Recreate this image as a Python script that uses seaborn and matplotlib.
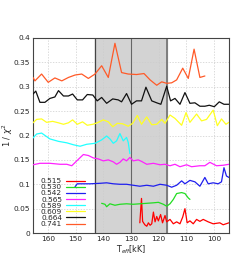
import numpy as np
import pandas as pd
import matplotlib
matplotlib.use("Agg")
import matplotlib.pyplot as plt
import seaborn as sns

sns.set_style("white")
plt.rcParams['font.family'] = ['DejaVu Sans']

labels = ["0.515", "0.530", "0.542", "0.565", "0.589", "0.609", "0.664", "0.741"]
colors = ["#ff0000", "#22dd22", "#1f1fee", "#ff22ff", "#22ffff", "#ffff22", "#111111", "#ff5a28"]

t_515 = [126.8, 126.2, 125.8, 125.0, 124.3, 123.7, 123.1, 122.5, 121.9, 121.3, 120.7, 120.1, 119.3, 118.6, 117.7,
         117.1, 115.9, 114.7, 113.5, 112.3, 111.3, 110.5, 109.7, 108.7, 107.5, 106.3, 105.1, 103.9, 102.1, 100.3,
         97.9, 96.7, 94.6]
v_515 = [0.021, 0.071, 0.024, 0.017, 0.014, 0.021, 0.016, 0.019, 0.043, 0.023, 0.034, 0.025, 0.038, 0.021, 0.036,
         0.023, 0.028, 0.019, 0.023, 0.019, 0.033, 0.050, 0.021, 0.025, 0.019, 0.028, 0.024, 0.028, 0.023, 0.019,
         0.021, 0.017, 0.021]

t_530 = [140.6, 139.4, 138.8, 137.6, 135.8, 134.0, 131.6, 129.2, 126.8, 124.3, 121.9, 120.1, 118.3, 117.1, 115.9,
         114.7, 113.5, 111.7, 110.5, 109.3, 108.7]
v_530 = [0.061, 0.059, 0.054, 0.060, 0.057, 0.059, 0.060, 0.059, 0.060, 0.061, 0.062, 0.063, 0.059, 0.055, 0.060,
         0.069, 0.081, 0.083, 0.081, 0.072, 0.069]

t_542 = [150.2, 149.4, 147.8, 144.8, 141.2, 138.8, 136.4, 134.0, 131.6, 129.2, 126.8, 124.3, 121.9, 119.5, 117.1,
         115.3, 113.5, 111.7, 110.5, 108.7, 106.9, 105.1, 103.3, 102.1, 100.3, 98.5, 97.3, 96.4, 95.5, 94.6]
v_542 = [0.095, 0.101, 0.101, 0.101, 0.102, 0.103, 0.101, 0.100, 0.100, 0.098, 0.096, 0.098, 0.096, 0.100, 0.098,
         0.094, 0.098, 0.107, 0.101, 0.108, 0.105, 0.096, 0.114, 0.101, 0.103, 0.101, 0.105, 0.134, 0.117, 0.114]

t_565 = [165.4, 162.9, 159.3, 155.6, 153.2, 151.4, 149.6, 147.2, 145.4, 143.6, 141.8, 140.0, 138.2, 136.4, 135.2,
         134.0, 132.8, 131.6, 130.4, 129.2, 127.4, 126.2, 124.3, 121.9, 119.5, 117.7, 115.9, 114.1, 112.3, 109.9,
         108.1, 105.1, 103.3, 101.5, 99.1, 96.7, 94.6]
v_565 = [0.140, 0.143, 0.143, 0.141, 0.141, 0.138, 0.148, 0.161, 0.159, 0.154, 0.152, 0.148, 0.150, 0.146, 0.141,
         0.145, 0.152, 0.148, 0.155, 0.148, 0.150, 0.147, 0.141, 0.143, 0.140, 0.141, 0.138, 0.141, 0.136, 0.140,
         0.136, 0.138, 0.138, 0.145, 0.138, 0.139, 0.141]

t_589 = [165.4, 164.1, 162.3, 159.3, 156.2, 153.2, 150.8, 148.4, 146.0, 143.0, 140.6, 138.8, 137.6, 136.4, 135.2,
         134.0, 132.8, 131.6, 131.0, 130.4]
v_589 = [0.195, 0.203, 0.205, 0.193, 0.188, 0.185, 0.181, 0.178, 0.182, 0.184, 0.191, 0.199, 0.193, 0.184, 0.189,
         0.204, 0.189, 0.196, 0.186, 0.163]

t_609 = [165.4, 164.1, 162.3, 160.5, 158.3, 156.2, 154.4, 152.6, 151.1, 149.4, 147.5, 145.8, 143.8, 142.2, 140.0,
         138.2, 136.6, 134.9, 133.0, 131.0, 129.4, 127.7, 126.2, 124.3, 122.5, 120.7, 118.9, 117.7, 115.9, 114.1,
         111.7, 110.1, 108.7, 106.3, 104.5, 102.7, 100.3, 98.8, 97.3, 95.7, 94.6]
v_609 = [0.226, 0.233, 0.234, 0.227, 0.229, 0.226, 0.223, 0.226, 0.232, 0.223, 0.228, 0.221, 0.223, 0.226, 0.232,
         0.228, 0.218, 0.225, 0.224, 0.219, 0.225, 0.241, 0.223, 0.238, 0.222, 0.223, 0.233, 0.225, 0.242, 0.235,
         0.221, 0.247, 0.227, 0.244, 0.230, 0.233, 0.252, 0.220, 0.234, 0.223, 0.227]

t_664 = [165.4, 164.4, 162.9, 161.1, 159.3, 157.5, 156.2, 154.4, 152.6, 151.1, 149.4, 147.5, 145.8, 143.8, 142.2,
         140.6, 138.8, 136.6, 134.6, 133.4, 131.6, 129.8, 128.0, 126.2, 124.6, 122.5, 120.7, 119.2, 117.1, 115.7,
         114.1, 112.3, 110.5, 108.7, 106.9, 105.1, 103.3, 101.7, 99.9, 98.1, 96.4, 94.6]
v_664 = [0.285, 0.291, 0.268, 0.268, 0.276, 0.279, 0.292, 0.281, 0.281, 0.285, 0.273, 0.273, 0.284, 0.283, 0.271,
         0.278, 0.266, 0.275, 0.273, 0.269, 0.286, 0.264, 0.271, 0.271, 0.299, 0.271, 0.267, 0.264, 0.301, 0.271,
         0.276, 0.264, 0.288, 0.266, 0.267, 0.260, 0.260, 0.262, 0.259, 0.269, 0.264, 0.264]

t_741 = [165.4, 164.7, 162.3, 159.9, 157.5, 155.0, 152.6, 150.2, 147.8, 145.4, 143.0, 140.6, 138.2, 135.8, 133.4,
         131.0, 128.0, 125.3, 123.1, 120.7, 118.9, 117.1, 115.3, 113.5, 111.3, 109.3, 107.2, 105.1, 103.3]
v_741 = [0.319, 0.312, 0.326, 0.309, 0.318, 0.312, 0.319, 0.324, 0.326, 0.317, 0.326, 0.343, 0.319, 0.389, 0.329,
         0.326, 0.325, 0.327, 0.314, 0.303, 0.310, 0.307, 0.308, 0.314, 0.338, 0.317, 0.377, 0.319, 0.322]

series = [(t_515, v_515), (t_530, v_530), (t_542, v_542), (t_565, v_565),
          (t_589, v_589), (t_609, v_609), (t_664, v_664), (t_741, v_741)]

xticks = [160, 150, 140, 130, 120, 110, 100]
yticks = [0, 0.05, 0.1, 0.15, 0.2, 0.25, 0.3, 0.35, 0.4]
ytick_labels = ["0", "0.05", "0.1", "0.15", "0.2", "0.25", "0.3", "0.35", "0.4"]

fig = plt.figure(figsize=(2.41, 2.71), dpi=100)
ax = fig.add_axes([0.137, 0.140, 0.813, 0.720])

ax.axvspan(117, 143, color="#d3d3d3", zorder=0)
ax.axvline(143, color="#444444", lw=0.9, zorder=1)
ax.axvline(130, color="#666666", lw=0.8, zorder=1)
ax.axvline(117, color="#777777", lw=1.3, zorder=1)

for (t, v), lab, c in zip(series, labels, colors):
    df = pd.DataFrame({"T": t, "v": v})
    sns.lineplot(data=df, x="T", y="v", ax=ax, color=c, lw=0.9, label=lab,
                 sort=False, estimator=None, zorder=3)

ax.set_xlim(165.4, 94.6)
ax.set_ylim(0, 0.4)
ax.set_xticks(xticks)
ax.set_yticks(yticks)
ax.set_yticklabels(ytick_labels)
ax.tick_params(labelsize=5.3, length=2, width=0.5, pad=2, direction="in")
ax.grid(True, color="#cccccc", ls=(0, (2, 2)), lw=0.5)
ax.set_axisbelow(True)
for s in ax.spines.values():
    s.set_linewidth(0.8)
    s.set_color("#444444")

ax.set_xlabel("T$_{eff}$[kK]", fontsize=5.8, labelpad=1)
ax.set_ylabel("1 / $\\chi^2$", fontsize=6)
ax.yaxis.set_label_coords(-0.093, 0.5)

leg = ax.legend(loc="lower left", bbox_to_anchor=(0.01, 0.0), frameon=False, fontsize=5.3,
                markerfirst=False, handlelength=2.6, labelspacing=0.0, borderpad=0.3,
                handletextpad=0.5)

fig.savefig("out.png", dpi=100)
